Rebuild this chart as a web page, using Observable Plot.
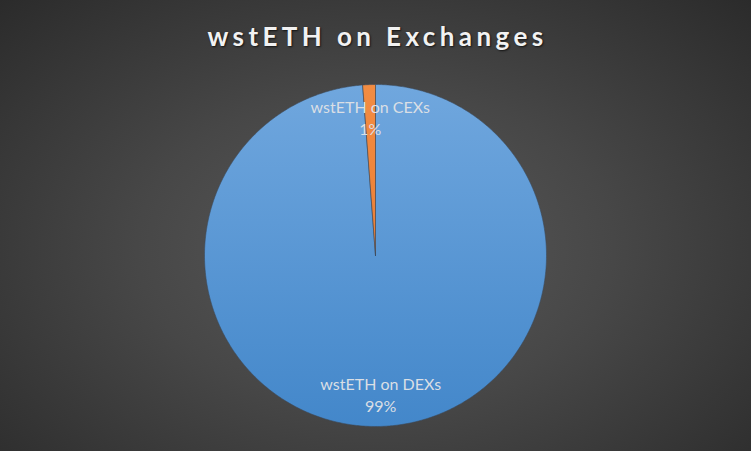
<!DOCTYPE html>
<html>
<head>
<meta charset="utf-8">
<script src="https://cdn.jsdelivr.net/npm/d3@7"></script>
<script src="https://cdn.jsdelivr.net/npm/@observablehq/plot@0.6"></script>
<style>
  html, body { margin: 0; padding: 0; background: #2a2a2a; }
  #wrap {
    position: relative; width: 751px; height: 451px; overflow: hidden;
    background: radial-gradient(ellipse farthest-corner at 50% 55%, #5a5a5a 0%, #474747 45%, #2b2b2b 100%);
  }
  #title {
    position: absolute; left: 0; width: 751px; top: 23px; text-align: center; padding-left: 4px; box-sizing: border-box;
    font-family: Lato, "Open Sans", sans-serif; font-weight: 700; font-size: 26px; line-height: 1;
    letter-spacing: 4.4px; color: #f2f2f2; text-shadow: 1px 1px 2px rgba(0,0,0,0.7);
  }
  #chart { position: absolute; left: 0; top: 0; }
</style>
</head>
<body>
<div id="wrap">
  <div id="chart"></div>
  <div id="title">wstETH on Exchanges</div>
</div>
<script>
const categories = ["wstETH on DEXs", "wstETH on CEXs"];
const shares = [98.8, 1.2];
const percentLabels = ["99%", "1%"];
const sliceFills = ["url(#gradBlue)", "url(#gradOrange)"];

const pie = d3.pie().sort(null).value(d => d.share);
const rows = categories.map((c, i) => ({cat: c, share: shares[i], pct: percentLabels[i], fill: sliceFills[i]}));
const arcs = pie(rows);

// polygon outlines of each slice in unit coordinates
const outlines = arcs.map(a => {
  const pts = [{cat: a.data.cat, x: 0, y: 0}];
  const n = Math.max(2, Math.ceil((a.endAngle - a.startAngle) / (Math.PI / 360)));
  for (let k = 0; k <= n; k++) {
    const t = a.startAngle + (a.endAngle - a.startAngle) * k / n;
    pts.push({cat: a.data.cat, x: Math.sin(t), y: Math.cos(t)});
  }
  pts.push({cat: a.data.cat, x: 0, y: 0});
  return {a, pts};
});

const labelR = 0.81;
const labelRows = arcs.map(a => {
  const m = (a.startAngle + a.endAngle) / 2;
  return {x: labelR * Math.sin(m), y: labelR * Math.cos(m), text: a.data.cat + "\n" + a.data.pct};
});

const defs = () => {
  const d = d3.create("svg:defs");
  const g1 = d.append("linearGradient").attr("id", "gradBlue").attr("x1", 0).attr("y1", 0).attr("x2", 0).attr("y2", 1);
  g1.append("stop").attr("offset", "0%").attr("stop-color", "#70a7de");
  g1.append("stop").attr("offset", "100%").attr("stop-color", "#4387ca");
  const g2 = d.append("linearGradient").attr("id", "gradOrange").attr("x1", 0).attr("y1", 0).attr("x2", 0).attr("y2", 1);
  g2.append("stop").attr("offset", "0%").attr("stop-color", "#f28c42");
  g2.append("stop").attr("offset", "100%").attr("stop-color", "#ec7f36");
  return d.node();
};

const plot = Plot.plot({
  width: 751,
  height: 451,
  marginLeft: 204,
  marginRight: 205,
  marginTop: 84,
  marginBottom: 25,
  x: {domain: [-1, 1], axis: null},
  y: {domain: [-1, 1], axis: null},
  style: {background: "transparent", overflow: "visible"},
  marks: [
    defs,
    ...outlines.map(o => Plot.line(o.pts, {x: "x", y: "y", fill: o.a.data.fill, stroke: "#3d4a5a", strokeWidth: 0.6, curve: "linear"})),
    Plot.text(labelRows, {x: "x", y: "y", text: "text", fill: "#dadfe5", fontSize: 16, lineHeight: 1.4, fontFamily: "Lato, 'Open Sans', sans-serif"})
  ]
});
document.getElementById("chart").appendChild(plot);
</script>
</body>
</html>
